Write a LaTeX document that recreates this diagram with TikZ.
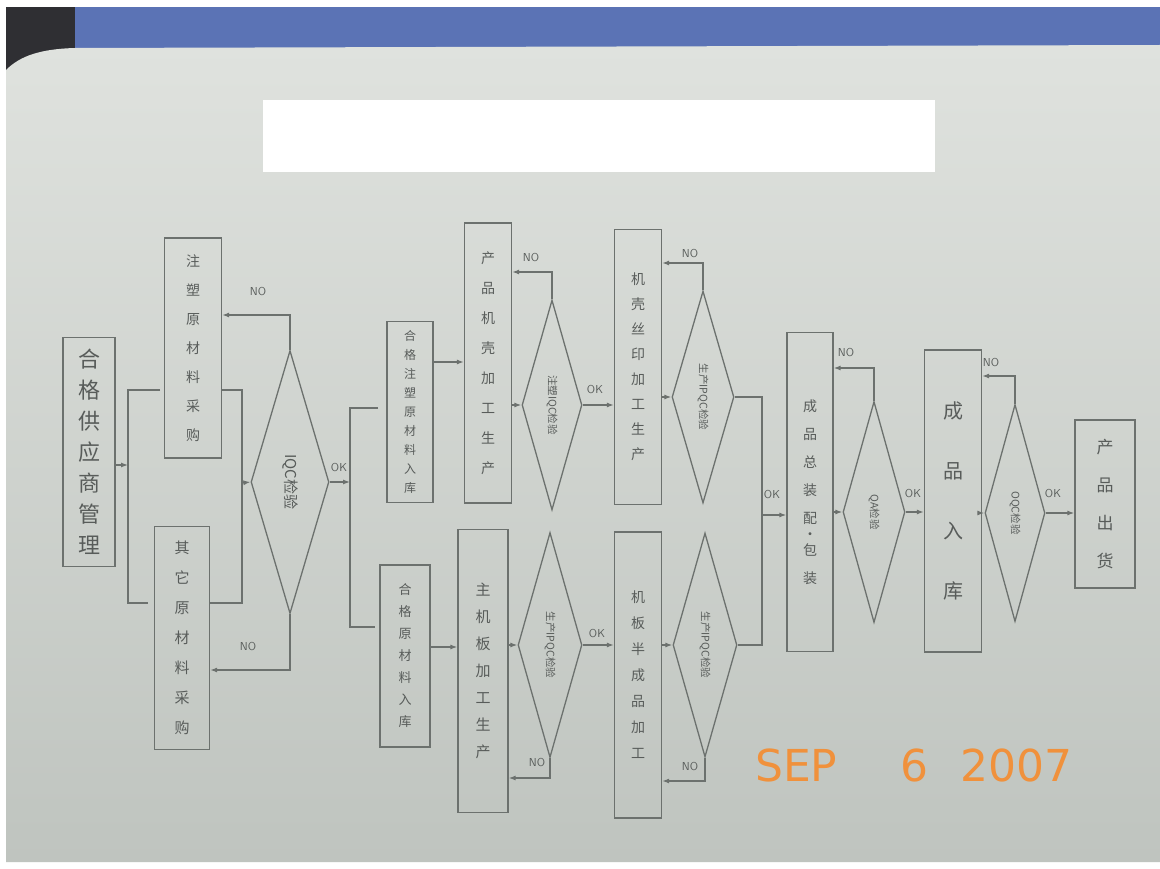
\documentclass[tikz,border=0pt]{standalone}
\usepackage{fontspec}
\newfontfamily\cjk{Noto Sans CJK SC}
\newfontfamily\stampfont{DejaVu Sans}
\usetikzlibrary{shapes.geometric,arrows.meta,calc}
\definecolor{ink}{HTML}{6C716E}
\definecolor{txt}{HTML}{585C5A}
\definecolor{papertop}{HTML}{DFE2DE}
\definecolor{paperbot}{HTML}{BFC4BF}
\definecolor{plastic}{HTML}{5B73B5}
\definecolor{darkedge}{HTML}{2F2F33}
\definecolor{stamp}{HTML}{F0913C}
\tikzset{
  box/.style={draw=ink, line width=1.3pt, inner sep=0pt, text=txt, align=center},
  dia/.style={draw=ink, line width=1.3pt, diamond, inner sep=0pt, aspect=0.3},
  dtext/.style={rotate=-90, text=txt, font=\cjk\fontsize{10.5}{12}\selectfont, inner sep=0pt},
  conn/.style={draw=ink, line width=1.2pt},
  arr/.style={conn, -{Latex[length=7pt,width=5pt]}},
  lab/.style={text=txt, font=\sffamily\fontsize{11.5}{12}\selectfont, inner sep=1pt},
  stampstyle/.style={anchor=west, text=stamp, font=\stampfont\fontsize{44}{44}\selectfont, inner sep=0pt},
}
\begin{document}
\begin{tikzpicture}[x=1pt,y=-1pt]
\useasboundingbox (0,0) rectangle (1160,869);
% background photo elements
\fill[white] (0,0) rectangle (1160,869);
\fill[darkedge] (6,7) rectangle (80,70);
\fill[plastic] (75,7) rectangle (1160,52);
\shade[top color=papertop, bottom color=paperbot] (6,70) .. controls (20,56) and (40,49) .. (75,48) -- (1160,45) -- (1160,862) -- (6,862) -- cycle;
\fill[white] (263,100) rectangle (935,172);

% boxes
\node[box, minimum width=52, minimum height=229, font=\cjk\fontsize{22}{31}\selectfont] (sup) at (89,452) {合\\格\\供\\应\\商\\管\\理};
\node[box, minimum width=57, minimum height=220, font=\cjk\fontsize{14}{29}\selectfont] (zs) at (193,348) {注\\塑\\原\\材\\料\\采\\购};
\node[box, minimum width=55, minimum height=223, font=\cjk\fontsize{15}{30}\selectfont] (qt) at (182,638) {其\\它\\原\\材\\料\\采\\购};
\node[dia, minimum width=78, minimum height=263] (iqc) at (290,482) {};
\node[rotate=-90, text=txt, font=\cjk\fontsize{15}{16}\selectfont, inner sep=0pt] at (iqc.center) {IQC检验};

\node[box, minimum width=46, minimum height=181, font=\cjk\fontsize{12}{19}\selectfont] (hzs) at (410,412) {合\\格\\注\\塑\\原\\材\\料\\入\\库};
\node[box, minimum width=50, minimum height=182, font=\cjk\fontsize{13}{22}\selectfont] (hyl) at (405,656) {合\\格\\原\\材\\料\\入\\库};
\node[box, minimum width=47, minimum height=280, font=\cjk\fontsize{14}{30}\selectfont] (jk) at (488,363) {产\\品\\机\\壳\\加\\工\\生\\产};
\node[box, minimum width=50, minimum height=283, font=\cjk\fontsize{15}{27}\selectfont] (zjb) at (483,671) {主\\机\\板\\加\\工\\生\\产};
\node[dia, minimum width=60, minimum height=210] (d1) at (552,405) {};
\node[dtext] at (d1.center) {注塑IQC检验};
\node[dia, minimum width=64, minimum height=225] (d3) at (550,645) {};
\node[dtext] at (d3.center) {生产IPQC检验};

\node[box, minimum width=47, minimum height=275, font=\cjk\fontsize{14}{25}\selectfont] (sy) at (638,367) {机\\壳\\丝\\印\\加\\工\\生\\产};
\node[box, minimum width=47, minimum height=286, font=\cjk\fontsize{14}{26}\selectfont] (bc) at (638,675) {机\\板\\半\\成\\品\\加\\工};
\node[dia, minimum width=62, minimum height=212] (d2) at (703,397) {};
\node[dtext] at (d2.center) {生产IPQC检验};
\node[dia, minimum width=64, minimum height=224] (d4) at (705,645) {};
\node[dtext] at (d4.center) {生产IPQC检验};

\node[box, minimum width=46, minimum height=319, font=\cjk\fontsize{14}{28}\selectfont] (zz) at (810,492) {成\\品\\总\\装\\配\\[-12pt]・\\[-12pt]包\\装};
\node[dia, minimum width=62, minimum height=221] (qa) at (874,512) {};
\node[dtext] at (qa.center) {QA检验};
\node[box, minimum width=57, minimum height=302, font=\cjk\fontsize{20}{60}\selectfont] (rk) at (953,501) {成\\品\\入\\库};
\node[dia, minimum width=60, minimum height=217] (oqc) at (1015,513) {};
\node[dtext] at (oqc.center) {OQC检验};
\node[box, minimum width=60, minimum height=168, font=\cjk\fontsize{17}{38}\selectfont] (ch) at (1105,504) {产\\品\\出\\货};

% left brackets
\coordinate (bl) at (128,465);
\draw[arr] (sup.east |- bl) -- (bl);
\draw[conn] (160,390) -- (128,390) -- (128,603) -- (148,603);
\coordinate (br) at (242,483);
\draw[conn] (zs.east |- 0,390) -- (242,390) -- (242,603) -- (qt.east |- 0,603);
\draw[arr] (br) -- (iqc.west);
\draw[arr] (iqc.north) |- (zs.east |- 0,315);
\node[lab] at (258,292) {NO};
\draw[arr] (iqc.south) |- (qt.east |- 0,670);
\node[lab] at (248,647) {NO};
\coordinate (okb) at (350,482);
\draw[arr] (iqc.east) -- (okb);
\node[lab] at (339,468) {OK};
\draw[conn] (378,408) -- (350,408) -- (350,627) -- (375,627);

% into production
\draw[arr] (hzs.east |- 0,362) -- (jk.west |- 0,362);
\draw[arr] (hyl.east |- 0,647) -- (zjb.west |- 0,647);

% upper chain
\draw[arr] (jk.east |- d1.west) -- (d1.west);
\draw[arr] (d1.north) |- (jk.east |- 0,272);
\node[lab] at (531,258) {NO};
\draw[arr] (d1.east) -- (sy.west |- d1.east);
\node[lab] at (595,390) {OK};
\draw[arr] (sy.east |- d2.west) -- (d2.west);
\draw[arr] (d2.north) |- (sy.east |- 0,263);
\node[lab] at (690,254) {NO};

% lower chain
\draw[arr] (zjb.east |- d3.west) -- (d3.west);
\draw[arr] (d3.south) |- (zjb.east |- 0,778);
\node[lab] at (537,763) {NO};
\draw[arr] (d3.east) -- (bc.west |- d3.east);
\node[lab] at (597,634) {OK};
\draw[arr] (bc.east |- d4.west) -- (d4.west);
\draw[arr] (d4.south) |- (bc.east |- 0,781);
\node[lab] at (690,767) {NO};

% merge
\coordinate (mg) at (762,515);
\draw[conn] (d2.east) -| (mg);
\draw[conn] (d4.east) -| (mg);
\draw[arr] (mg) -- (zz.west |- mg);
\node[lab] at (772,495) {OK};

% final chain
\draw[arr] (zz.east |- qa.west) -- (qa.west);
\draw[arr] (qa.north) |- (zz.east |- 0,368);
\node[lab] at (846,353) {NO};
\draw[arr] (qa.east) -- (rk.west |- qa.east);
\node[lab] at (913,494) {OK};
\draw[arr] (rk.east |- oqc.west) -- (oqc.west);
\draw[arr] (oqc.north) |- (rk.east |- 0,376);
\node[lab] at (991,363) {NO};
\draw[arr] (oqc.east) -- (ch.west |- oqc.east);
\node[lab] at (1053,494) {OK};

% date stamp
\node[stampstyle] (s1) at (755,765) {SEP};
\node[stampstyle] (s2) at (900,765) {6};
\node[stampstyle] (s3) at (960,765) {2007};
\end{tikzpicture}
\end{document}
